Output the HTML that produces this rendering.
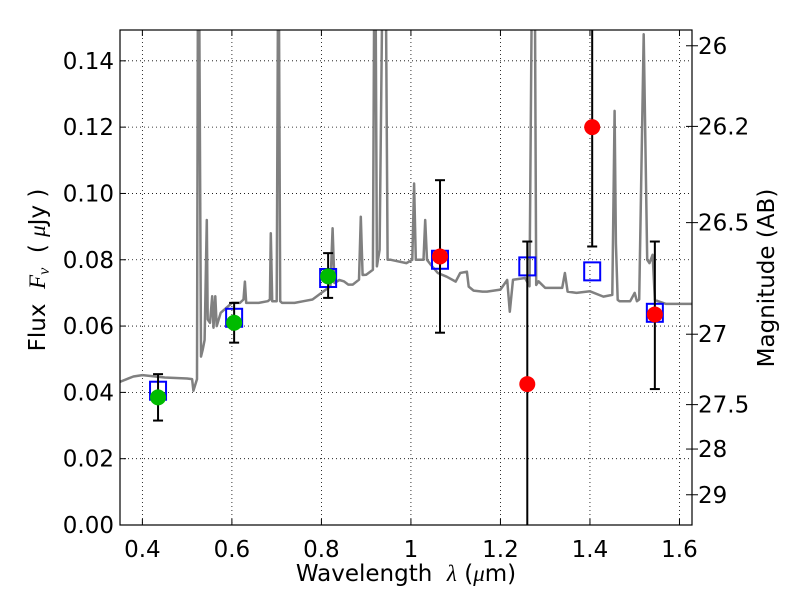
<!DOCTYPE html>
<html><head><meta charset="utf-8">
<style>
html,body{margin:0;padding:0;background:#fff;overflow:hidden;width:800px;height:600px;}
svg{display:block;}
svg text{font-family:"DejaVu Sans","Liberation Sans",sans-serif;fill:#000;}
</style></head>
<body>
<svg id="chart" width="800" height="600" viewBox="0 0 800 600" xmlns="http://www.w3.org/2000/svg">
<defs><clipPath id="plotclip"><rect x="120" y="30" width="572" height="495"/></clipPath></defs>
<rect x="0" y="0" width="800" height="600" fill="#fff"/>
<g id="grid"></g>
<g id="plot" clip-path="url(#plotclip)"></g>
<rect x="120" y="30" width="572" height="495" fill="none" stroke="#000" stroke-width="1.2"/>
<g id="axes"></g>
<text x="406" y="581" font-size="23" text-anchor="middle">Wavelength&#160;&#160;<tspan font-style="italic" font-family="Liberation Serif, serif">λ</tspan> (<tspan font-style="italic" font-family="Liberation Serif, serif">μ</tspan>m)</text>
<text transform="translate(45,270) rotate(-90)" font-size="23" text-anchor="middle">Flux&#160;&#160;<tspan font-style="italic" font-family="Liberation Serif, serif">F<tspan font-size="16" dy="4">ν</tspan></tspan><tspan dy="-4">&#160;&#160;(&#160;</tspan><tspan font-style="italic" font-family="Liberation Serif, serif">μ</tspan>Jy )</text>
<text transform="translate(774,278) rotate(-90)" font-size="23" text-anchor="middle">Magnitude (AB)</text>
</svg>
<script>
const specLam = [0.35,0.38,0.40,0.45,0.50,0.511,0.514,0.522,0.524,0.527,0.531,0.535,0.539,0.544,0.546,0.551,0.556,0.559,0.563,0.566,0.575,0.600,0.618,0.626,0.629,0.632,0.660,0.680,0.685,0.687,0.690,0.700,0.703,0.705,0.708,0.712,0.74,0.76,0.78,0.79,0.80,0.81,0.82,0.825,0.829,0.84,0.85,0.86,0.87,0.884,0.888,0.892,0.90,0.915,0.918,0.921,0.924,0.930,0.936,0.940,0.944,0.948,0.955,0.99,1.003,1.007,1.011,1.020,1.028,1.032,1.036,1.045,1.06,1.08,1.10,1.11,1.125,1.129,1.14,1.16,1.17,1.20,1.215,1.221,1.228,1.255,1.265,1.270,1.273,1.277,1.280,1.285,1.30,1.32,1.338,1.344,1.35,1.37,1.40,1.43,1.450,1.455,1.458,1.462,1.466,1.49,1.50,1.505,1.51,1.520,1.528,1.533,1.540,1.545,1.552,1.57,1.60,1.63];
const specFlux = [0.0432,0.0448,0.0452,0.0445,0.0442,0.0440,0.0405,0.0440,0.16,0.16,0.0508,0.0530,0.0558,0.092,0.0620,0.0610,0.0690,0.0595,0.0690,0.0600,0.0640,0.0670,0.0670,0.0680,0.0734,0.0670,0.0670,0.0675,0.0680,0.088,0.0675,0.0675,0.16,0.16,0.0675,0.0670,0.0670,0.0675,0.0680,0.0690,0.0700,0.0710,0.0720,0.0895,0.0730,0.0739,0.0735,0.0725,0.0725,0.0740,0.093,0.0754,0.0755,0.0770,0.16,0.16,0.0780,0.083,0.16,0.16,0.16,0.0800,0.0800,0.0790,0.0800,0.103,0.0800,0.0800,0.0800,0.092,0.0800,0.0784,0.0760,0.0749,0.0734,0.0760,0.0764,0.0719,0.0707,0.0704,0.0704,0.0710,0.0739,0.0643,0.0740,0.0745,0.0720,0.16,0.16,0.16,0.0724,0.0735,0.0715,0.0715,0.0715,0.0760,0.0704,0.0700,0.0705,0.0689,0.0694,0.1249,0.0850,0.0679,0.0675,0.0675,0.0700,0.0675,0.0680,0.148,0.0800,0.0790,0.0815,0.0679,0.0675,0.0667,0.0667,0.0667];
const photLam = [0.435,0.605,0.815];
const photFlux = [0.0385,0.061,0.075];
const photLo = [0.0315,0.055,0.0685];
const photHi = [0.0455,0.067,0.082];
const nirLam = [1.065,1.26,1.405,1.545];
const nirFlux = [0.081,0.0425,0.120,0.0635];
const nirLo = [0.058,-0.05,0.084,0.041];
const nirHi = [0.104,0.0855,0.20,0.0855];
const modelLam = [0.435,0.605,0.815,1.065,1.26,1.405,1.545];
const modelFlux = [0.0405,0.0625,0.0745,0.080,0.078,0.0765,0.064];
const xTicks = [0.4,0.6,0.8,1.0,1.2,1.4,1.6];
const xTickLabels = ["0.4","0.6","0.8","1","1.2","1.4","1.6"];
const yTicks = [0,0.02,0.04,0.06,0.08,0.10,0.12,0.14];
const yTickLabels = ["0.00","0.02","0.04","0.06","0.08","0.10","0.12","0.14"];
const magTicks = [26,26.2,26.5,27,27.5,28,29];
const magTickLabels = ["26","26.2","26.5","27","27.5","28","29"];

const X0=120,X1=692,Y0=525,Y1=30,XMIN=0.35,XMAX=1.628,YMIN=0,YMAX=0.1493;
function xs(v){return X0+(v-XMIN)/(XMAX-XMIN)*(X1-X0);}
function ys(v){return Y0-(v-YMIN)/(YMAX-YMIN)*(Y0-Y1);}
function magToFlux(m){return Math.pow(10,(23.9-m)/2.5);}
const NS="http://www.w3.org/2000/svg";
function mk(tag,attrs,parent){const e=document.createElementNS(NS,tag);for(const k in attrs)e.setAttribute(k,attrs[k]);parent.appendChild(e);return e;}
const grid=document.getElementById('grid'),plot=document.getElementById('plot'),axes=document.getElementById('axes');

xTicks.forEach((t,i)=>{
  const x=xs(t);
  const g=mk('line',{x1:x,x2:x,y1:Y1,y2:Y0,stroke:'#000','stroke-width':0.8,'stroke-dasharray':'1,3'},grid);
  
  
  const tk=mk('line',{x1:x,x2:x,y1:Y0,y2:Y0-6,stroke:'#000','stroke-width':1},axes);
  
  
  const tt=mk('line',{x1:x,x2:x,y1:Y1,y2:Y1+6,stroke:'#000','stroke-width':1},axes);
  
  
  const lb=mk('text',{x:x,y:Y0+32,'font-size':23,'text-anchor':'middle'},axes);
  lb.textContent=xTickLabels[i];
  
  
});
yTicks.forEach((t,i)=>{
  const y=ys(t);
  const g=mk('line',{x1:X0,x2:X1,y1:y,y2:y,stroke:'#000','stroke-width':0.8,'stroke-dasharray':'1,3'},grid);
  
  
  const tk=mk('line',{x1:X0,x2:X0+6,y1:y,y2:y,stroke:'#000','stroke-width':1},axes);
  
  
  const lb=mk('text',{x:X0-6,y:y+8,'font-size':23,'text-anchor':'end'},axes);
  lb.textContent=yTickLabels[i];
  
  
});
magTicks.forEach((m,i)=>{
  const y=ys(magToFlux(m));
  const tk=mk('line',{x1:X1-6,x2:X1+6,y1:y,y2:y,stroke:'#000','stroke-width':1},axes);
  
  
  const lb=mk('text',{x:X1+6,y:y+8,'font-size':23,'text-anchor':'start'},axes);
  lb.textContent=magTickLabels[i];
  
  
});

let d='';
specLam.forEach((l,i)=>{d+=(i?'L':'M')+xs(l).toFixed(1)+','+ys(specFlux[i]).toFixed(1);});
const sp=mk('path',{d:d,fill:'none',stroke:'#808080','stroke-width':2.5,'stroke-linejoin':'round'},plot);



function errbar(l,lo,hi,name){
  const x=xs(l);
  const ln=mk('line',{x1:x,x2:x,y1:ys(lo),y2:ys(hi),stroke:'#000','stroke-width':2},plot);
  
  
  [lo,hi].forEach(v=>{
    const c=mk('line',{x1:x-5,x2:x+5,y1:ys(v),y2:ys(v),stroke:'#000','stroke-width':2},plot);
    
    
  });
}
modelLam.forEach((l,i)=>{
  const s=mk('rect',{x:xs(l)-8,y:ys(modelFlux[i])-9,width:16,height:18,fill:'none',stroke:'#0000ff','stroke-width':2},plot);
  
  
});
photLam.forEach((l,i)=>{
  errbar(l,photLo[i],photHi[i],'optical-error-bar');
  const c=mk('circle',{cx:xs(l),cy:ys(photFlux[i]),r:8,fill:'#00bb00'},plot);
  
  
});
nirLam.forEach((l,i)=>{
  errbar(l,nirLo[i],nirHi[i],'nir-error-bar');
  const c=mk('circle',{cx:xs(l),cy:ys(nirFlux[i]),r:8,fill:'#ff0000'},plot);
  
  
});
</script>
</body></html>
